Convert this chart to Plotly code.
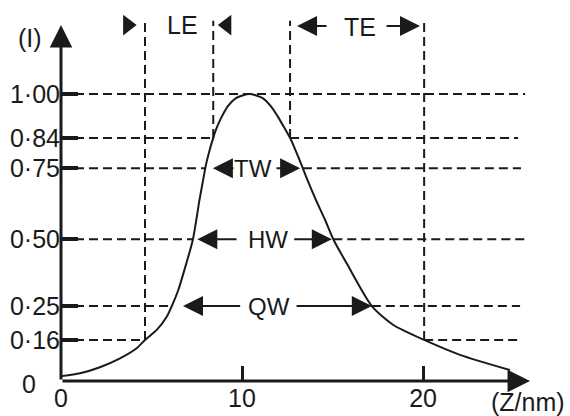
import numpy as np
import plotly.graph_objects as go

# ---- data ----
z_nm = [0.04, 1.05, 2.15, 3.26, 4.18, 4.64, 5.29, 5.84, 6.12, 6.48, 6.85, 7.29,
        7.65, 7.85, 8.01, 8.19, 8.41, 8.56, 8.84, 9.21, 9.67, 10.40,
        11.14, 11.60, 11.97, 12.34, 12.68, 12.98, 13.28, 13.55, 14.08, 14.59,
        15.04, 15.78, 17.17, 18.36, 20.06, 22.04, 24.80]
intensity = [0.017, 0.027, 0.048, 0.079, 0.114, 0.143, 0.178, 0.224, 0.261, 0.317,
             0.394, 0.494, 0.631, 0.700, 0.754, 0.800, 0.847, 0.876, 0.916, 0.957,
             0.986, 1.000,
             0.986, 0.957, 0.922, 0.882, 0.844, 0.800, 0.754, 0.710, 0.631, 0.561,
             0.494, 0.410, 0.261, 0.195, 0.143, 0.091, 0.038]

# guide levels as drawn on the (I) axis, and their printed labels
levels = [1.000, 0.847, 0.741, 0.494, 0.261, 0.143]
level_labels = ["1·00", "0·84", "0·75", "0·50", "0·25", "0·16"]
x_ticks = [0, 10, 20]
x_tick_labels = ["0", "10", "20"]

# right-hand ends of the dashed guide lines (nm), per level
line_ends = [25.64, 25.25, 25.41, 25.69, 25.36, 25.25]

# width labels: (label, level, left tip, left tail, text x, right tail, right tip)
width_labels = [
    ("TW", 0.741, 8.39, 9.61, 10.60, 11.82, 13.21),
    ("HW", 0.494, 7.53, 9.78, 11.41, 12.80, 14.96),
    ("QW", 0.261, 6.74, 9.98, 11.49, 12.93, 17.17),
]

FONT = "Liberation Sans"
BLACK = "#1a1a1a"

# ---- crossings of the curve ----
peak = int(np.argmax(intensity))
zl, il = np.array(z_nm[:peak + 1]), np.array(intensity[:peak + 1])
zr, ir = np.array(z_nm[peak:])[::-1], np.array(intensity[peak:])[::-1]


def left_cross(v):
    return float(np.interp(v, il, zl))


def right_cross(v):
    return float(np.interp(v, ir, zr))


fig = go.Figure()
fig.add_trace(go.Scatter(x=z_nm, y=intensity, mode="lines",
                         line=dict(color=BLACK, width=2, shape="spline", smoothing=0.7),
                         cliponaxis=False, hoverinfo="skip"))

DASH = "9px,5px"
shapes = []
# horizontal guides (interrupted inside the curve except at the peak level)
for i, (v, end) in enumerate(zip(levels, line_ends)):
    if i == 0:
        shapes.append(dict(type="line", x0=0, x1=end, y0=v, y1=v))
    else:
        shapes.append(dict(type="line", x0=0, x1=left_cross(v), y0=v, y1=v))
        shapes.append(dict(type="line", x0=right_cross(v), x1=end, y0=v, y1=v))
# vertical guides (LE and TE edges)
TOP = 1.255
for v, side in [(levels[5], "l"), (levels[1], "l"), (levels[1], "r"), (levels[5], "r")]:
    xv = left_cross(v) if side == "l" else right_cross(v)
    shapes.append(dict(type="line", x0=xv, x1=xv, y0=v, y1=TOP))
for s in shapes:
    s.update(xref="x", yref="y", line=dict(color=BLACK, width=2, dash=DASH))

annotations = []


def arrow(x, y, ax, ay, width=2, size=2.0):
    annotations.append(dict(x=x, y=y, ax=ax, ay=ay, xref="x", yref="y", axref="x", ayref="y",
                            text="", showarrow=True, arrowhead=2, arrowsize=size,
                            arrowwidth=width, arrowcolor=BLACK, standoff=0, startstandoff=0))


def label(x, y, text, size=25, ref="x"):
    annotations.append(dict(x=x, y=y, xref=ref, yref=ref.replace("x", "y"), text=text,
                            showarrow=False, xanchor="center", yanchor="middle",
                            font=dict(family=FONT, size=size, color=BLACK)))


# axes with arrows
arrow(0, 1.240, 0, 0, width=3, size=1.5)
arrow(25.91, 0, 0, 0, width=3, size=1.5)

for name, v, ltip, ltail, tx, rtail, rtip in width_labels:
    arrow(ltip, v, ltail, v)
    arrow(rtip, v, rtail, v)
    label(tx, v, name, size=24)

# LE / TE header
label(6.69, 1.240, "LE", size=25)
label(16.52, 1.233, "TE", size=25)
arrow(13.04, 1.237, 14.75, 1.237)
arrow(19.83, 1.237, 17.90, 1.237)
fig.add_trace(go.Scatter(x=[3.68, 9.16], y=[1.240, 1.240], mode="markers",
                         marker=dict(symbol=["triangle-right", "triangle-left"], size=18,
                                     color=BLACK),
                         cliponaxis=False, hoverinfo="skip"))

# axis titles and the y zero label (paper coordinates, outside the axes)
label(-0.0647, 0.9245, "(I)", size=25, ref="paper")
label(0.975, -0.057, "(Z/nm)", size=25, ref="paper")
label(-0.0668, -0.008, "0", size=25, ref="paper")

fig.update_layout(
    width=570, height=416,
    margin=dict(l=61, r=30, t=10, b=35),
    paper_bgcolor="white", plot_bgcolor="white",
    showlegend=False,
    shapes=shapes, annotations=annotations,
    xaxis=dict(range=[0, 26.46], tickvals=x_ticks, ticktext=x_tick_labels,
               ticks="inside", ticklen=15, tickwidth=3, tickcolor=BLACK,
               ticklabelstandoff=0, automargin=False,
               showgrid=False, zeroline=False, showline=False,
               tickfont=dict(family=FONT, size=25, color=BLACK)),
    yaxis=dict(range=[0, 1.2927], tickvals=levels, ticktext=level_labels,
               ticks="inside", ticklen=17, tickwidth=3.5, tickcolor=BLACK,
               automargin=False,
               showgrid=False, zeroline=False, showline=False,
               tickfont=dict(family=FONT, size=25, color=BLACK)),
)

fig.write_html("out.html")
